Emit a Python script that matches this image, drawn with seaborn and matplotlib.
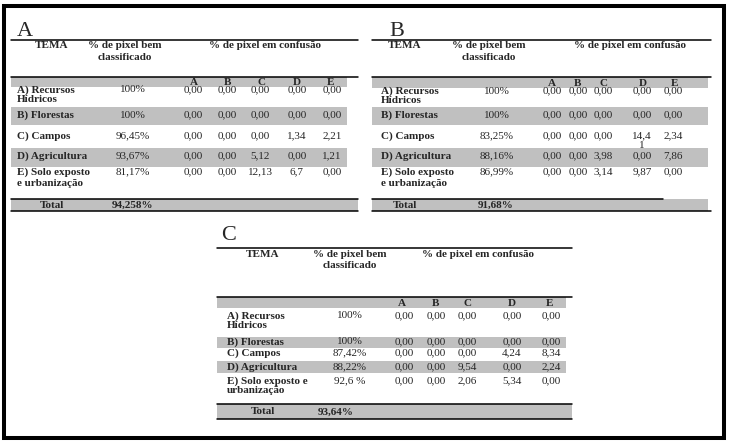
import matplotlib.pyplot as plt
from matplotlib.patches import Rectangle
import seaborn as sns

# dados das três matrizes de confusão
classes = ["A", "B", "C", "D", "E"]
temas = ["A) Recursos\nHídricos", "B) Florestas", "C) Campos",
         "D) Agricultura", "E) Solo exposto\ne urbanização"]
temas_c = ["A) Recursos\nHídricos", "B) Florestas", "C) Campos",
           "D) Agricultura", "E) Solo exposto e\nurbanização"]

bem_a = ["100%", "100%", "96,45%", "93,67%", "81,17%"]
conf_a = [["0,00", "0,00", "0,00", "0,00", "0,00"],
          ["0,00", "0,00", "0,00", "0,00", "0,00"],
          ["0,00", "0,00", "0,00", "1,34", "2,21"],
          ["0,00", "0,00", "5,12", "0,00", "1,21"],
          ["0,00", "0,00", "12,13", "6,7", "0,00"]]
total_a = "94,258%"

bem_b = ["100%", "100%", "83,25%", "88,16%", "86,99%"]
conf_b = [["0,00", "0,00", "0,00", "0,00", "0,00"],
          ["0,00", "0,00", "0,00", "0,00", "0,00"],
          ["0,00", "0,00", "0,00", "14,4\n1", "2,34"],
          ["0,00", "0,00", "3,98", "0,00", "7,86"],
          ["0,00", "0,00", "3,14", "9,87", "0,00"]]
total_b = "91,68%"

bem_c = ["100%", "100%", "87,42%", "88,22%", "92,6 %"]
conf_c = [["0,00", "0,00", "0,00", "0,00", "0,00"],
          ["0,00", "0,00", "0,00", "0,00", "0,00"],
          ["0,00", "0,00", "0,00", "4,24", "8,34"],
          ["0,00", "0,00", "9,54", "0,00", "2,24"],
          ["0,00", "0,00", "2,06", "5,34", "0,00"]]
total_c = "93,64%"

sns.set_theme(style="white")
plt.rcParams["font.family"] = ["Liberation Serif", "DejaVu Serif"]

GRAY = "#c0c0c0"
FS = 8

fig = plt.figure(figsize=(7.31, 4.46), dpi=100)
ax = fig.add_axes([0, 0, 1, 1])
ax.set_xlim(0, 731)
ax.set_ylim(446, 0)
ax.axis("off")


def band(x0, x1, y0, y1):
    ax.add_patch(Rectangle((x0, y0), x1 - x0, y1 - y0, color=GRAY, lw=0, zorder=1))


def hline(y, x0, x1):
    ax.plot([x0, x1], [y, y], color="black", lw=1.1, zorder=3)


def draw_table(letter, labels, bem, conf, total, L):
    ax.text(L["title"][0], L["title"][1], letter, fontsize=16, va="baseline", ha="left")
    hline(L["top"], L["x0"], L["x1"])
    hy1, hy2 = L["head_y"]
    ax.text(L["tema_x"], hy1, "TEMA", fontsize=FS, weight="bold", ha="center", va="center")
    ax.text(L["bem_x"], hy1, "% de pixel bem", fontsize=FS, weight="bold", ha="center", va="center")
    ax.text(L["bem_x"], hy2, "classificado", fontsize=FS, weight="bold", ha="center", va="center")
    ax.text(L["conf_x"], hy1, "% de pixel em confusão", fontsize=FS, weight="bold",
            ha="center", va="center")
    # cabeçalho cinza com as classes
    band(L["x0"], L["gray_x1"], *L["band"])
    hline(L["band"][0], L["x0"], L["x1"])
    ly = (L["band"][0] + L["band"][1]) / 2 + 0.5
    for cx, c in zip(L["col_x"], classes):
        ax.text(cx, ly, c, fontsize=FS, weight="bold", ha="center", va="center")
    # linhas
    for i, (lab, b, row) in enumerate(zip(labels, bem, conf)):
        y0, y1 = L["rows"][i]
        if i % 2 == 1:
            band(L["x0"], L["gray_x1"], y0, y1)
        ty = L["row_y"][i] - 5.5
        ax.text(L["label_x"], ty, lab, fontsize=FS, weight="bold", ha="left", va="top",
                linespacing=L["ls"][i])
        ax.text(L["pct_x"], ty, b, fontsize=FS, ha="center", va="top")
        for cx, v in zip(L["val_x"], row):
            ax.text(cx, ty, v, fontsize=FS, ha="center", va="top", linespacing=1.0,
                    multialignment="center")
    # total
    t0, t1 = L["total"]
    band(L["x0"], L["total_gray_x1"], t0, t1)
    hline(t0, L["x0"], L["total_line_x1"])
    hline(t1, L["x0"], L["x1"])
    ty = (t0 + t1) / 2 + 0.5
    ax.text(L["tema_x"], ty, "Total", fontsize=FS, weight="bold", ha="center", va="center")
    ax.text(L["total_x"], ty, total, fontsize=FS, weight="bold", ha="left", va="center")


lay_a = dict(x0=11, x1=358, gray_x1=347, title=(17, 36.5), top=39.5, head_y=(45, 58),
             tema_x=52, bem_x=125, conf_x=265, label_x=17, pct_x=133,
             col_x=[194, 228, 262, 297, 331], val_x=[193, 227, 260, 297, 332],
             band=(77, 87), rows=[(87, 107), (107, 125), (125, 148), (148, 167), (167, 198)],
             row_y=[91, 116, 137, 157, 173], ls=[0.95, 1, 1, 1, 1.3],
             total=(198.5, 210.5), total_gray_x1=358, total_line_x1=358, total_x=112)

lay_b = dict(x0=372, x1=711, gray_x1=708, title=(389, 36.5), top=39.5, head_y=(45, 58),
             tema_x=405, bem_x=489, conf_x=630, label_x=381, pct_x=497,
             col_x=[552, 578, 604, 643, 675], val_x=[552, 578, 603, 642, 673],
             band=(77, 88), rows=[(88, 107), (107, 125), (125, 148), (148, 167), (167, 198)],
             row_y=[92, 116, 137, 157, 173], ls=[0.95, 1, 1, 1, 1.3],
             total=(198.5, 211), total_gray_x1=708, total_line_x1=663, total_x=478)

lay_c = dict(x0=217, x1=572, gray_x1=566, title=(221, 240), top=248, head_y=(254.5, 266),
             tema_x=263, bem_x=350, conf_x=478, label_x=227, pct_x=350,
             col_x=[402, 435, 467, 512, 550], val_x=[404, 436, 467, 512, 551],
             band=(297, 308), rows=[(308, 337), (337, 348), (348, 361), (361, 373), (373, 404)],
             row_y=[317, 343, 354, 368, 382], ls=[1.05, 1, 1, 1, 1.05],
             total=(404, 419), total_gray_x1=572, total_line_x1=572, total_x=318)

draw_table("A", temas, bem_a, conf_a, total_a, lay_a)
draw_table("B", temas, bem_b, conf_b, total_b, lay_b)
draw_table("C", temas_c, bem_c, conf_c, total_c, lay_c)

# moldura
ax.add_patch(Rectangle((3.5, 6), 720.5, 432, fill=False, edgecolor="black", lw=2.9, zorder=4))

fig.savefig("out.png", dpi=100)
